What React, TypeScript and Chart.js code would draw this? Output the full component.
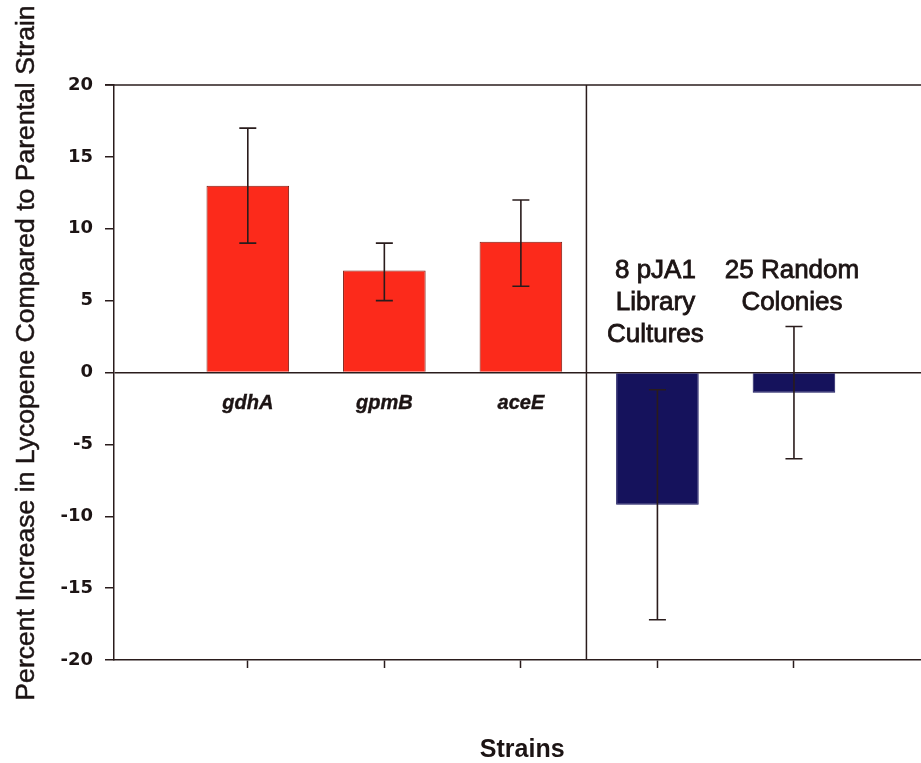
import React, { useEffect, useRef } from 'react';
import { Chart, registerables } from 'chart.js';

Chart.register(...registerables);

// ---- data ----
const positions = [1, 2, 3, 4, 5];
const categoryLabels = ['gdhA', 'gpmB', 'aceE', '8 pJA1\nLibrary\nCultures', '25 Random\nColonies'];
const values = [13, 7.1, 9.1, -9.2, -1.4];
const errLow = [9, 5, 6, -17.2, -6];
const errHigh = [17, 9, 12, -1.2, 3.2];
const barColors = ['#fc2a1b', '#fc2a1b', '#fc2a1b', '#15125c', '#15125c'];
const barEdges = ['#7e1c12', '#7e1c12', '#7e1c12', '#15125c', '#15125c'];
const yMin = -20;
const yMax = 20;
const yStep = 5;
const xMin = 0.02;
const xMax = 6;
const dividerAt = 3.48;
const yTitle = 'Percent Increase in Lycopene Compared to Parental Strain';
const xTitle = 'Strains';

const AXIS = '#2a1c1c';
const TEXT = '#1c1414';
const SANS = "'Liberation Sans', Arial, sans-serif";

function heavyText(ctx: any, t: string, x: number, y: number, w: number) {
  ctx.fillText(t, x, y);
  ctx.lineWidth = w;
  ctx.strokeText(t, x, y);
}

const overlayPlugin = {
  id: 'overlay',
  afterDatasetsDraw(chart: any) {
    const { ctx, chartArea, scales } = chart;
    const xs = scales.x;
    const ys = scales.y;
    ctx.save();
    ctx.strokeStyle = AXIS;
    ctx.lineWidth = 1.5;
    // top frame line
    ctx.beginPath();
    ctx.moveTo(chartArea.left - 9, chartArea.top);
    ctx.lineTo(chartArea.right, chartArea.top);
    ctx.stroke();
    // divider between panels
    const dx = xs.getPixelForValue(dividerAt);
    ctx.beginPath();
    ctx.moveTo(dx, chartArea.top);
    ctx.lineTo(dx, chartArea.bottom);
    ctx.stroke();
    // error bars
    ctx.lineWidth = 1.6;
    positions.forEach((p, i) => {
      const px = xs.getPixelForValue(p);
      const hi = ys.getPixelForValue(errHigh[i]);
      const lo = ys.getPixelForValue(errLow[i]);
      ctx.beginPath();
      ctx.moveTo(px, hi);
      ctx.lineTo(px, lo);
      ctx.moveTo(px - 8.5, hi);
      ctx.lineTo(px + 8.5, hi);
      ctx.moveTo(px - 8.5, lo);
      ctx.lineTo(px + 8.5, lo);
      ctx.stroke();
    });
    // category labels inside the plot
    const zero = ys.getPixelForValue(0);
    ctx.fillStyle = TEXT;
    ctx.strokeStyle = TEXT;
    ctx.textAlign = 'center';
    ctx.textBaseline = 'alphabetic';
    positions.forEach((p, i) => {
      const px = xs.getPixelForValue(p);
      const lines = categoryLabels[i].split('\n');
      if (values[i] >= 0) {
        ctx.font = `italic bold 20px ${SANS}`;
        lines.forEach((t, k) => heavyText(ctx, t, px, zero + 36 + k * 32, 0.4));
      } else {
        ctx.font = `26px ${SANS}`;
        lines.forEach((t, k) => heavyText(ctx, t, px - 2, zero - 95 + k * 32, 0.8));
      }
    });
    // axis titles
    ctx.font = `bold 25px ${SANS}`;
    ctx.fillText(xTitle, (chartArea.left + chartArea.right) / 2, 757);
    ctx.save();
    ctx.translate(33.5, 353);
    ctx.rotate(-Math.PI / 2);
    ctx.font = `26.6px ${SANS}`;
    heavyText(ctx, yTitle, 0, 0, 0.5);
    ctx.restore();
    ctx.restore();
  },
};

export default function App() {
  const ref = useRef<HTMLCanvasElement>(null);
  useEffect(() => {
    if (!ref.current) return;
    const chart = new Chart(ref.current, {
      type: 'bar',
      data: {
        datasets: [
          {
            data: positions.map((p, i) => ({ x: p, y: values[i] })),
            backgroundColor: barColors,
            borderColor: barEdges,
            borderWidth: 1,
            categoryPercentage: 0.605,
            barPercentage: 1,
          },
        ],
      },
      options: {
        animation: false,
        responsive: false,
        devicePixelRatio: 1,
        layout: { padding: { left: 0, top: 85, right: 9.5, bottom: 0 } },
        plugins: { legend: { display: false }, tooltip: { enabled: false }, title: { display: false } },
        scales: {
          x: {
            type: 'linear',
            min: xMin,
            max: xMax,
            offset: false,
            afterBuildTicks: (scale: any) => {
              scale.ticks = positions.map((v) => ({ value: v }));
            },
            afterFit: (scale: any) => {
              scale.height = 103;
            },
            ticks: { callback: () => '', padding: 0, font: { size: 10 } },
            grid: {
              offset: false,
              drawOnChartArea: false,
              drawTicks: true,
              tickLength: 8,
              tickColor: AXIS,
              tickWidth: 1.5,
            },
            border: { display: true, color: AXIS, width: 1.5 },
          },
          y: {
            min: yMin,
            max: yMax,
            ticks: {
              stepSize: yStep,
              padding: 12,
              color: TEXT,
              font: { family: "'DejaVu Sans'", size: 18, weight: 'bold' },
            },
            afterFit: (scale: any) => {
              scale.width = 114;
            },
            grid: {
              color: (c: any) => (c.tick && c.tick.value === 0 ? AXIS : 'rgba(0,0,0,0)'),
              lineWidth: 1.5,
              drawTicks: true,
              tickLength: 9,
              tickColor: AXIS,
              tickWidth: 1.5,
            },
            border: { display: true, color: AXIS, width: 1.5 },
          },
        },
      } as any,
      plugins: [overlayPlugin],
    });
    return () => chart.destroy();
  }, []);
  return (
    <div
      style={{
        position: 'fixed',
        left: 0,
        top: 0,
        width: 921,
        height: 763,
        overflow: 'hidden',
        background: '#ffffff',
      }}
    >
      <canvas ref={ref} width={940} height={763} style={{ display: 'block' }} />
    </div>
  );
}
